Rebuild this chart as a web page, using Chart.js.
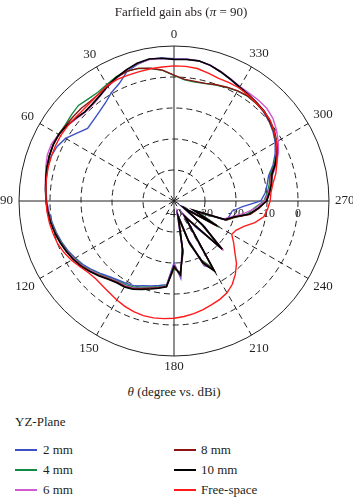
<!DOCTYPE html>
<html>
<head>
<meta charset="utf-8">
<script src="https://cdn.jsdelivr.net/npm/chart.js@4.4.0/dist/chart.umd.min.js"></script>
<style>
  body { margin: 0; background: #fff; }
  #wrap { position: relative; width: 353px; height: 500px; overflow: hidden;
          font-family: "Liberation Serif", "DejaVu Serif", serif; color: #231f20; }
  #chart { position: absolute; left: 0; top: 0; }
  .txt { position: absolute; white-space: nowrap; font-size: 13px; line-height: 13px; }
  #title { left: 181px; top: 5px; transform: translateX(-50%); }
  #axisTitle { left: 174px; top: 385px; transform: translateX(-50%); }
  #legendTitle { left: 15px; top: 415px; }
  .swatch { position: absolute; width: 22px; height: 2px; }
</style>
</head>
<body>
<div id="wrap">
  <canvas id="chart" width="353" height="380"></canvas>
  <div class="txt" id="title">Farfield gain abs (<i>π</i> = 90)</div>
  <div class="txt" id="axisTitle"><i>θ</i> (degree vs. dBi)</div>
  <div class="txt" id="legendTitle">YZ-Plane</div>
  <div id="legend"></div>
</div>
<script>
// theta in degrees, counter-clockwise from the top (0, 5, ... 355)
const angles = [0, 5, 10, 15, 20, 25, 30, 35, 40, 45, 50, 55, 60, 65, 70, 75, 80, 85,
  90, 95, 100, 105, 110, 115, 120, 125, 130, 135, 140, 145, 150, 155, 160, 165, 170, 175,
  180, 185, 190, 195, 200, 205, 210, 215, 220, 225, 230, 235, 240, 245, 250, 255, 260, 265,
  270, 275, 280, 285, 290, 295, 300, 305, 310, 315, 320, 325, 330, 335, 340, 345, 350, 355];

// gain in dBi, same order as angles
const gain2mm = [5.9, 6.3, 6.4, 5.6, 4.4, 1.8, 0.4, -1.4, -2.5, -3.2, -3.6, -1.8, 0.4, 1.6, 2.2, 2.2, 1.8, 1.4,
  1.1, 0.5, -0.1, -0.7, -1.4, -2.2, -3.2, -4.2, -5.5, -6.8, -8.0, -8.8, -9.3, -9.8, -10.9, -11.6, -12.3, -12.9,
  -20, -15, -25, -36, -27, -17, -15, -35, -29, -19, -27, -37, -25, -32, -22, -21.5, -21, -18,
  -12, -10.5, -9.5, -8.4, -6.0, -4.0, -2.3, -1.0, 0.0, 0.8, 1.3, 1.8, 2.3, 3.2, 4.2, 5.3, 5.9, 6.0];

const gain4mm = [0.5, 2.3, 3.4, 4.3, 4.6, 4.2, 3.4, 2.8, 3.0, 3.6, 3.2, 2.8, 3.0, 3.0, 2.7, 2.3, 1.9, 1.5,
  1.2, 0.7, 0.2, -0.5, -1.2, -1.9, -2.9, -3.8, -5.1, -6.4, -7.6, -8.4, -8.8, -9.3, -10.4, -11.2, -11.9, -12.6,
  -18, -17, -23, -34, -25, -19, -15, -33, -31, -18.5, -29, -35, -23, -31, -22, -19.5, -16, -14,
  -11, -9.8, -8.8, -8.0, -5.6, -3.6, -2.0, -0.8, 0.2, 0.9, 1.2, 1.3, 1.0, 0.4, -0.2, -0.8, -1.0, -0.8];

const gain6mm = [5.7, 6.1, 6.3, 5.8, 5.0, 3.8, 2.6, 1.4, 0.6, 0.5, 1.2, 2.2, 3.0, 3.6, 3.5, 2.8, 2.1, 1.6,
  1.2, 0.7, 0.3, -0.4, -1.0, -1.8, -2.7, -3.6, -4.9, -6.2, -7.4, -8.2, -8.5, -9.0, -10.1, -11.0, -11.7, -12.4,
  -19.5, -15.5, -24.5, -36, -26.5, -17.5, -14.5, -35, -30, -17.5, -28.5, -36, -24.5, -32, -23, -20.5, -17, -13.5,
  -10.8, -9.4, -8.4, -7.0, -4.8, -2.8, -1.2, 0.3, 1.6, 2.3, 2.4, 2.4, 2.6, 3.4, 4.4, 5.4, 5.9, 5.9];

const gain8mm = [0.6, 2.4, 3.5, 4.3, 4.5, 3.9, 3.0, 2.2, 2.0, 2.3, 2.4, 2.6, 2.9, 3.0, 2.8, 2.4, 2.0, 1.6,
  1.3, 0.8, 0.4, -0.3, -0.9, -1.7, -2.5, -3.5, -4.7, -6.0, -7.2, -8.0, -8.2, -8.8, -9.9, -10.9, -11.6, -12.3,
  -18.5, -16.5, -23.5, -34.5, -25.5, -18.5, -14.2, -33.5, -30.5, -18, -28, -35.5, -23.5, -32.5, -22, -19.8, -15, -12.5,
  -10.3, -9.2, -8.2, -7.6, -5.3, -3.4, -1.9, -0.7, 0.2, 0.9, 1.2, 1.4, 1.0, 0.5, -0.1, -0.7, -0.8, -0.6];

const gain10mm = [5.7, 6.2, 6.5, 6.0, 5.0, 4.0, 2.8, 1.6, 0.9, 0.7, 1.5, 2.3, 2.9, 3.0, 2.8, 2.4, 2.0, 1.6,
  1.3, 0.9, 0.4, -0.2, -0.9, -1.6, -2.4, -3.3, -4.6, -5.8, -7.0, -7.8, -8.0, -8.6, -9.6, -10.6, -11.4, -12.2,
  -19, -16, -24, -35, -26, -18, -14, -34, -30, -18, -28, -36, -24, -33, -22.5, -20, -15.5, -12.8,
  -10.1, -9.0, -8.0, -7.3, -5.2, -3.3, -1.8, -0.5, 0.4, 1.1, 1.5, 1.9, 2.4, 3.3, 4.3, 5.3, 5.9, 5.8];

const gainFree = [3.6, 3.4, 3.3, 3.2, 3.2, 3.3, 3.0, 2.2, 1.7, 1.5, 1.7, 2.0, 2.2, 2.2, 2.1, 2.0, 1.8, 1.5,
  1.3, 1.1, 0.8, 0.4, 0.0, -0.8, -1.8, -3.0, -4.0, -4.4, -4.2, -3.8, -3.1, -2.5, -2.0, -1.7, -1.7, -1.9,
  -2.2, -2.6, -3.1, -3.7, -4.4, -5.0, -5.8, -7.2, -9.2, -11.5, -14.4, -16.5, -18.5, -17.8, -16.0, -13.0, -10.6, -9.7,
  -9.0, -8.6, -7.6, -6.0, -4.7, -3.3, -1.8, -0.6, 0.5, 1.0, 1.3, 1.7, 2.1, 2.1, 2.1, 2.7, 3.4, 3.6];

const radialTicks = [-40, -30, -20, -10, 0];
const angleTicks = [0, 30, 60, 90, 120, 150, 180, 210, 240, 270, 300, 330];

// radar runs clockwise, theta runs counter-clockwise: walk the angles backwards
const order = angles.map((_, i) => (angles.length - i) % angles.length);
const pick = arr => order.map(j => arr[j]);

const serif = '"Liberation Serif", "DejaVu Serif", serif';

const polarText = {
  id: 'polarText',
  beforeDatasetsDraw(chart) {
    const s = chart.scales.r, ctx = chart.ctx;
    ctx.save();
    ctx.font = '12px ' + serif;
    ctx.fillStyle = '#231f20';
    ctx.textAlign = 'center';
    ctx.textBaseline = 'middle';
    radialTicks.forEach(v => {
      ctx.fillText(String(v), s.xCenter + s.getDistanceFromCenterForValue(v), s.yCenter + 13);
    });
    ctx.restore();
  },
  afterDraw(chart) {
    const s = chart.scales.r, ctx = chart.ctx;
    ctx.save();
    ctx.font = '13px ' + serif;
    ctx.fillStyle = '#231f20';
    ctx.textAlign = 'center';
    ctx.textBaseline = 'middle';
    chart.data.labels.forEach((t, i) => {
      if (!angleTicks.includes(t)) return;
      const a = t * Math.PI / 180;
      const w = ctx.measureText(String(t)).width;
      const d = s.drawingArea + 6 + Math.abs(Math.sin(a)) * w / 2 + Math.abs(Math.cos(a)) * 5;
      const p = s.getPointPosition(i, d);
      ctx.fillText(String(t), p.x, p.y);
    });
    ctx.restore();
  }
};

const chart = new Chart(document.getElementById('chart'), {
  type: 'radar',
  data: {
    labels: pick(angles),
    datasets: [
      { label: '2 mm', data: pick(gain2mm), borderColor: '#3f4fc4', order: 5 },
      { label: '4 mm', data: pick(gain4mm), borderColor: '#138a42', order: 4 },
      { label: '6 mm', data: pick(gain6mm), borderColor: '#d05ad0', order: 3 },
      { label: '8 mm', data: pick(gain8mm), borderColor: '#8c1414', order: 2 },
      { label: '10 mm', data: pick(gain10mm), borderColor: '#000000', borderWidth: 1.6, order: 1 },
      { label: 'Free-space', data: pick(gainFree), borderColor: '#ff1a1a', order: 0 }
    ]
  },
  options: {
    responsive: false,
    animation: false,
    layout: { padding: { left: 19, right: 24, top: 46, bottom: 24 } },
    elements: {
      point: { radius: 0, hoverRadius: 0 },
      line: { borderWidth: 1.4, fill: false, tension: 0 }
    },
    plugins: { legend: { display: false }, title: { display: false }, tooltip: { enabled: false } },
    scales: {
      r: {
        min: -40,
        max: 10,
        ticks: { display: false, stepSize: 10 },
        pointLabels: { display: false },
        grid: { circular: true, color: '#231f20', lineWidth: 1 },
        border: { dash: ctx => ctx.tick && ctx.tick.value === 10 ? [] : [6, 4] },
        angleLines: {
          color: '#231f20',
          lineWidth: ctx => ctx.index % 6 === 0 ? 1 : 0,
          borderDash: ctx => ctx.index % 18 === 0 ? [] : [6, 4]
        }
      }
    }
  },
  plugins: [polarText]
});

// legend in two columns, filled top to bottom
const legend = document.getElementById('legend');
chart.data.datasets.forEach((ds, i) => {
  const col = Math.floor(i / 3), row = i % 3;
  const y = 450 + row * 20;
  const sw = document.createElement('div');
  sw.className = 'swatch';
  sw.style.background = ds.borderColor;
  sw.style.left = (col ? 174 : 15) + 'px';
  sw.style.top = (y - 1) + 'px';
  legend.appendChild(sw);
  const tx = document.createElement('div');
  tx.className = 'txt';
  tx.textContent = ds.label;
  tx.style.left = (col ? 201 : 43) + 'px';
  tx.style.top = (y - 7) + 'px';
  legend.appendChild(tx);
});
</script>
</body>
</html>
